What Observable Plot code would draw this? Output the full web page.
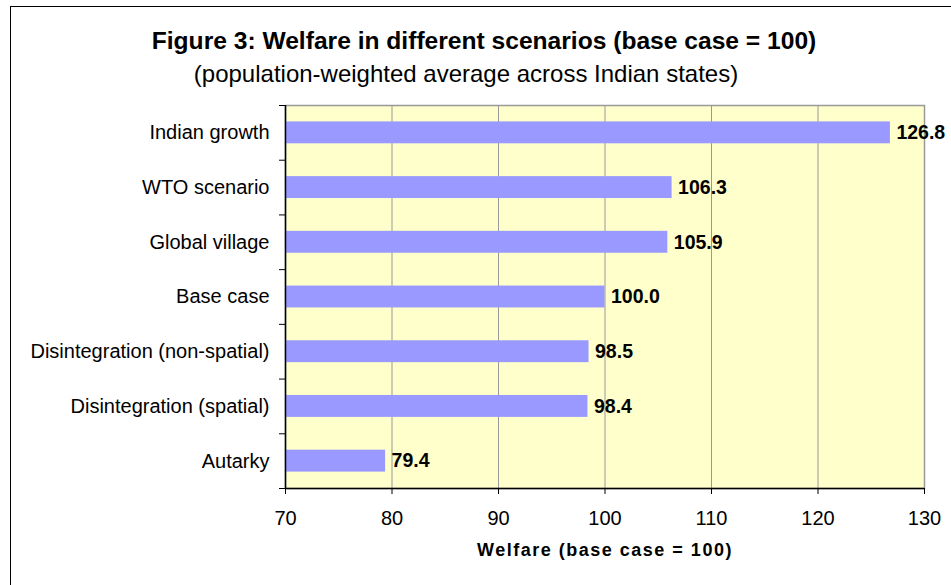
<!DOCTYPE html>
<html><head><meta charset="utf-8">
<script src="https://cdn.jsdelivr.net/npm/d3@7"></script>
<script src="https://cdn.jsdelivr.net/npm/@observablehq/plot@0.6"></script>
<style>
body{margin:0;background:#fff;font-family:"Liberation Sans",Arial,sans-serif;}
#wrap{position:relative;width:951px;height:585px;overflow:hidden;background:#fff;}
#border{position:absolute;left:10px;top:6px;width:1000px;height:700px;border-left:1.5px solid #000;border-top:1.5px solid #000;}
.t{position:absolute;white-space:nowrap;transform:translateX(-50%);color:#000;}
#title{left:484px;top:29px;font-size:24.6px;line-height:24.6px;font-weight:bold;}
#subtitle{left:466px;top:62px;font-size:24px;line-height:24px;}
#xlabel{left:605px;top:541px;font-size:18px;line-height:18px;font-weight:bold;letter-spacing:1.5px;}
#chart{position:absolute;left:0;top:0;}
</style>
</head><body>
<div id="wrap">
  <div id="border"></div>
  <div id="chart"></div>
  <div class="t" id="title">Figure 3: Welfare in different scenarios (base case = 100)</div>
  <div class="t" id="subtitle">(population-weighted average across Indian states)</div>
  <div class="t" id="xlabel">Welfare (base case = 100)</div>
</div>
<script>
const categories = ["Indian growth","WTO scenario","Global village","Base case","Disintegration (non-spatial)","Disintegration (spatial)","Autarky"];
const values = [126.8, 106.3, 105.9, 100.0, 98.5, 98.4, 79.4];
const xTicks = [70, 80, 90, 100, 110, 120, 130];
const gridLines = [80, 90, 100, 110, 120];
const xMin = 70;

const data = categories.map((c, i) => ({category: c, value: values[i], i}));
const boundaries = d3.range(-0.5, categories.length, 1);

const chart = Plot.plot({
  width: 951,
  height: 585,
  marginLeft: 285,
  marginRight: 27,
  marginTop: 105,
  marginBottom: 97,
  style: {fontFamily: "Liberation Sans, Arial, sans-serif", fontSize: "20px", background: "transparent", color: "#000"},
  x: {domain: [70, 130]},
  y: {domain: [categories.length - 0.5, -0.5]},
  marks: [
    Plot.frame({fill: "#FFFFCC", stroke: null}),
    Plot.ruleX(gridLines, {stroke: "#999", strokeWidth: 1}),
    Plot.frame({stroke: "#999", strokeWidth: 1.5}),
    Plot.rectX(data, {x1: xMin, x2: "value", y1: d => d.i - 0.2, y2: d => d.i + 0.2, fill: "#9999FF"}),
    Plot.text(data, {x: "value", y: "i", text: d => d.value.toFixed(1), dx: 6, textAnchor: "start", fontWeight: "bold", fontSize: 19.5, fill: "#000"}),
    Plot.ruleX([xMin], {stroke: "#000", strokeWidth: 1.5}),
    Plot.ruleY([categories.length - 0.5], {stroke: "#000", strokeWidth: 1.5}),
    Plot.axisX({ticks: xTicks, tickSize: 6, tickPadding: 16, fontSize: 20, label: null, stroke: "#000"}),
    Plot.axisY({ticks: boundaries, tickSize: 6, tickFormat: () => "", label: null, stroke: "#000"}),
    Plot.axisY({ticks: d3.range(categories.length), tickSize: 0, tickPadding: 16, tickFormat: i => categories[i], fontSize: 20, label: null})
  ]
});
document.getElementById("chart").appendChild(chart);
</script>
</body></html>
